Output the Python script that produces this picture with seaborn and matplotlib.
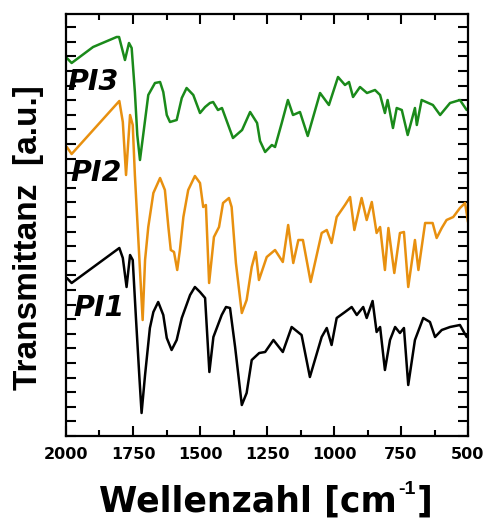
import numpy as np
import pandas as pd
import matplotlib
matplotlib.use("Agg")
import matplotlib.pyplot as plt
import seaborn as sns
from matplotlib.ticker import MultipleLocator, FixedLocator, NullFormatter


# Wellenzahl [cm-1] und Transmittanz (a.u.), je Probe
PI3_WZ = [1997, 1979, 1899, 1811, 1802, 1780, 1765, 1755, 1743, 1734, 1724, 1712, 1693, 1668,
          1649, 1637, 1624, 1612, 1587, 1568, 1550, 1525, 1500, 1481, 1463, 1451, 1433, 1418,
          1377, 1343, 1313, 1287, 1276, 1257, 1232, 1220, 1195, 1172, 1153, 1127, 1098, 1052,
          1019, 985, 959, 944, 929, 903, 877, 847, 828, 810, 800, 780, 766, 747, 725, 698,
          691, 673, 631, 604, 567, 530, 505]
PI3_T = [378, 373, 389, 399, 399, 376, 393, 388, 344, 301, 276, 301, 341, 353,
         354, 344, 321, 314, 316, 338, 348, 341, 323, 329, 333, 334, 326, 328,
         298, 306, 324, 313, 295, 284, 291, 289, 313, 336, 321, 324, 300, 343,
         331, 359, 351, 354, 339, 349, 343, 346, 341, 323, 336, 308, 328, 326, 301, 328,
         311, 336, 331, 321, 333, 336, 326]

PI2_WZ = [1997, 1979, 1801, 1788, 1776, 1761, 1751, 1743, 1726, 1714, 1705, 1693, 1674, 1649,
          1631, 1618, 1609, 1597, 1585, 1575, 1562, 1544, 1519, 1500, 1488, 1478, 1466, 1448,
          1429, 1414, 1392, 1382, 1366, 1344, 1326, 1307, 1292, 1280, 1251, 1220, 1191, 1171,
          1152, 1133, 1116, 1087, 1046, 1027, 1009, 990, 959, 940, 924, 897, 878, 859, 841,
          828, 810, 797, 775, 754, 739, 723, 698, 685, 660, 632, 617, 598, 580, 555, 530,
          511, 500]
PI2_T = [289, 282, 335, 314, 261, 321, 311, 261, 176, 116, 176, 209, 243, 258,
         246, 209, 186, 184, 166, 186, 219, 246, 260, 253, 229, 231, 153, 199,
         209, 233, 238, 229, 173, 123, 136, 169, 184, 156, 179, 186, 174, 211,
         173, 196, 196, 154, 203, 206, 193, 219, 231, 239, 206, 238, 216, 234, 203,
         209, 166, 208, 163, 203, 204, 149, 196, 166, 213, 213, 198, 208, 216, 219, 228,
         233, 214]

PI1_WZ = [1997, 1979, 1801, 1788, 1774, 1761, 1751, 1739, 1726, 1718, 1705, 1687, 1674, 1656,
          1637, 1624, 1606, 1587, 1568, 1537, 1519, 1500, 1481, 1465, 1450, 1419, 1403, 1388,
          1369, 1344, 1326, 1307, 1279, 1257, 1226, 1191, 1158, 1121, 1090, 1046, 1027, 1009,
          990, 959, 934, 915, 891, 878, 856, 841, 828, 810, 791, 772, 754, 739, 723, 698,
          667, 642, 623, 598, 567, 530, 505]
PI1_T = [158, 153, 188, 178, 149, 181, 176, 118, 58, 23, 61, 108, 124, 134,
         121, 98, 86, 96, 118, 141, 149, 144, 138, 64, 99, 121, 129, 128,
         89, 31, 43, 76, 83, 84, 96, 84, 109, 101, 59, 99, 108, 91,
         118, 124, 129, 121, 129, 118, 135, 104, 109, 66, 96, 109, 103, 108, 51, 96,
         118, 114, 99, 106, 109, 111, 99]

PROBEN = ["PI1", "PI2", "PI3"]
FARBEN = {"PI1": "#000000", "PI2": "#e8900f", "PI3": "#1a8a1a"}
# Position der Beschriftung (Wellenzahl, Transmittanz)
LABEL_POS = {"PI1": (1972, 128), "PI2": (1984, 263), "PI3": (1995, 354)}

BREIT = "DejaVu Sans"      # etwas breitere Schrift wie im Original
SCHMAL = "Liberation Sans"


def tabelle():
    teile = []
    for name, wz, t in [("PI1", PI1_WZ, PI1_T), ("PI2", PI2_WZ, PI2_T), ("PI3", PI3_WZ, PI3_T)]:
        teile.append(pd.DataFrame({"wz": wz, "t": t, "probe": name}))
    return pd.concat(teile, ignore_index=True)


sns.set_style("ticks")
plt.rcParams["font.family"] = [SCHMAL, "DejaVu Sans"]
plt.rcParams["font.weight"] = "bold"
for schluessel in ["text.color", "axes.labelcolor", "xtick.color", "ytick.color", "axes.edgecolor"]:
    plt.rcParams[schluessel] = "black"

daten = tabelle()

fig = plt.figure(figsize=(4.86, 5.22), dpi=100)
ax = fig.add_axes([66 / 486, 1 - 436 / 522, 402 / 486, 422 / 522])

sns.lineplot(data=daten, x="wz", y="t", hue="probe", palette=FARBEN, sort=False,
             estimator=None, linewidth=1.8, legend=False, ax=ax)

for probe in PROBEN:
    x, y = LABEL_POS[probe]
    ax.text(x, y, probe, fontsize=20.5, fontweight="bold", fontstyle="italic",
            family=BREIT, ha="left", va="center", color="black")

ax.set_xlim(2000, 500)
ax.set_ylim(0, 422)
ax.xaxis.set_major_locator(MultipleLocator(250))
ax.xaxis.set_minor_locator(MultipleLocator(125))
ax.yaxis.set_major_locator(FixedLocator(np.arange(0, 422, 14.6)))
ax.yaxis.set_major_formatter(NullFormatter())

ax.tick_params(axis="both", which="both", direction="in", top=True, right=True, width=1.5)
ax.tick_params(axis="x", which="major", length=7, labelsize=11.5, pad=8)
ax.tick_params(axis="x", which="minor", length=4)
ax.tick_params(axis="y", which="major", length=7)
for lbl in ax.get_xticklabels():
    lbl.set_fontweight("bold")
    lbl.set_family(BREIT)
for spine in ax.spines.values():
    spine.set_linewidth(1.6)

ax.set_xlabel("")
ax.set_ylabel("")

# y-Beschriftung
fig.text(29 / 486, 1 - 238 / 522, "Transmittanz  [a.u.]", rotation=90, fontsize=24,
         fontweight="bold", family=SCHMAL, ha="center", va="center")

# x-Beschriftung mit kleinem Exponenten, aus drei Teilen zusammengesetzt
renderer = fig.canvas.get_renderer()
basis = 10 / 522
haupt = fig.text(0, basis, "Wellenzahl [cm", fontsize=25, fontweight="bold",
                 family=BREIT, ha="left", va="baseline")
hoch = fig.text(0, basis + 18 / 522, "-1", fontsize=14, fontweight="bold",
                family=SCHMAL, ha="left", va="baseline")
klammer = fig.text(0, basis, "]", fontsize=25, fontweight="bold",
                   family=BREIT, ha="left", va="baseline")
b_haupt = haupt.get_window_extent(renderer).width
b_hoch = hoch.get_window_extent(renderer).width
b_klammer = klammer.get_window_extent(renderer).width
gesamt = b_haupt + 1 + b_hoch + 1 + b_klammer
start = 265.5 - gesamt / 2
haupt.set_x(start / 486)
hoch.set_x((start + b_haupt + 1) / 486)
klammer.set_x((start + b_haupt + 2 + b_hoch) / 486)

fig.savefig("out.png", dpi=100)
